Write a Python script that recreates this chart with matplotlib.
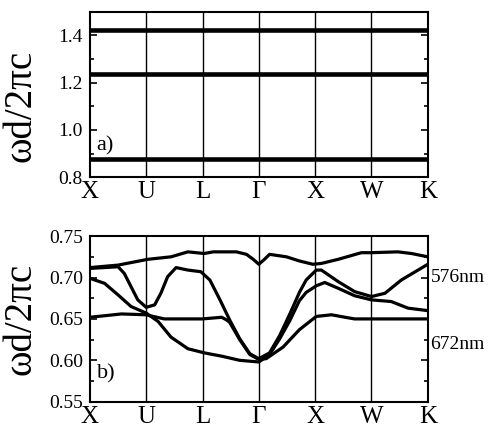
import matplotlib.pyplot as plt
from matplotlib.ticker import MultipleLocator, FormatStrFormatter

plt.rcParams['font.family'] = ['Liberation Serif', 'DejaVu Serif']

# symmetry points along the path
k_labels = ['X', 'U', 'L', 'Γ', 'X', 'W', 'K']
k_pos = [0, 1, 2, 3, 4, 5, 6]

# panel a): flat bands
flat_bands = [1.423, 1.235, 0.877]

# panel b): four bands
band1_k = [0, 0.5, 1.03, 1.44, 1.74, 2.03, 2.19, 2.6, 2.78, 2.9, 3.0, 3.1, 3.19, 3.49, 3.72,
           3.96, 4.11, 4.41, 4.82, 5.0, 5.47, 5.71, 6]
band1_w = [0.712, 0.715, 0.722, 0.725, 0.731, 0.729, 0.731, 0.731, 0.728, 0.722, 0.716, 0.722,
           0.728, 0.725, 0.720, 0.716, 0.717, 0.722, 0.730, 0.730, 0.731, 0.729, 0.725]

band2_k = [0, 0.5, 0.61, 0.73, 0.85, 1.0, 1.15, 1.26, 1.38, 1.53, 1.74, 1.97, 2.13, 2.31, 2.48,
           2.66, 2.84, 3.0, 3.19, 3.37, 3.55, 3.72, 3.84, 4.02, 4.11, 4.41, 4.70, 5.0, 5.24,
           5.53, 6]
band2_w = [0.711, 0.713, 0.705, 0.689, 0.673, 0.664, 0.667, 0.681, 0.701, 0.712, 0.709, 0.707,
           0.697, 0.673, 0.649, 0.626, 0.608, 0.602, 0.609, 0.630, 0.656, 0.682, 0.697, 0.709,
           0.709, 0.695, 0.683, 0.677, 0.681, 0.697, 0.716]

band3_k = [0, 0.26, 0.5, 0.73, 1.0, 1.21, 1.44, 1.74, 2.03, 2.34, 2.66, 3.0, 3.19, 3.37, 3.55,
           3.72, 3.84, 4.02, 4.17, 4.41, 4.70, 5.0, 5.35, 5.65, 6]
band3_w = [0.699, 0.693, 0.679, 0.665, 0.657, 0.647, 0.628, 0.614, 0.609, 0.605, 0.600, 0.598,
           0.607, 0.626, 0.648, 0.672, 0.682, 0.690, 0.694, 0.687, 0.678, 0.673, 0.671, 0.663,
           0.660]

band4_k = [0, 0.56, 1.0, 1.32, 2.0, 2.34, 2.42, 2.48, 2.66, 2.84, 3.0, 3.13, 3.43, 3.72, 4.02,
           4.29, 4.53, 4.70, 5.0, 6]
band4_w = [0.652, 0.656, 0.655, 0.650, 0.650, 0.652, 0.649, 0.646, 0.625, 0.607, 0.601, 0.602,
           0.616, 0.637, 0.653, 0.655, 0.652, 0.650, 0.650, 0.650]

# wavelength marks on the right of panel b)
wl_labels = ['576nm', '672nm']
wl_pos = [0.700, 0.619]

fig = plt.figure(figsize=(4.94, 4.29), dpi=100)
ax1 = fig.add_axes([0.182, 0.587, 0.684, 0.386])
ax2 = fig.add_axes([0.182, 0.0636, 0.684, 0.386])


def style_axes(ax):
    for s in ax.spines.values():
        s.set_linewidth(1.5)
    ax.set_xlim(0, 6)
    ax.set_xticks(k_pos)
    ax.set_xticklabels(k_labels, fontsize=18)
    ax.tick_params(axis='x', length=0, pad=3)
    ax.tick_params(axis='y', which='both', direction='in', left=True, right=True,
                   labelsize=14, pad=5, width=1.2)
    ax.tick_params(axis='y', which='major', length=5)
    ax.tick_params(axis='y', which='minor', length=3)
    for k in k_pos[1:-1]:
        ax.axvline(k, color='black', lw=1.0, zorder=1)
    ax.set_ylabel('ωd/2πc', fontsize=28)


# panel a)
for w in flat_bands:
    ax1.plot([k_pos[0], k_pos[-1]], [w, w], color='black', lw=3.3, zorder=3)
ax1.set_ylim(0.8, 1.5)
ax1.yaxis.set_major_locator(MultipleLocator(0.2))
ax1.yaxis.set_minor_locator(MultipleLocator(0.1))
ax1.yaxis.set_major_formatter(FormatStrFormatter('%.1f'))
style_axes(ax1)
ax1.yaxis.set_label_coords(-0.148, 0.43)
ax1.text(0.02, 0.19, 'a)', transform=ax1.transAxes, fontsize=16, va='center', ha='left')

# panel b)
for bk, bw in [(band1_k, band1_w), (band2_k, band2_w), (band3_k, band3_w), (band4_k, band4_w)]:
    ax2.plot(bk, bw, color='black', lw=2.3, zorder=3, solid_joinstyle='round')
ax2.set_ylim(0.55, 0.75)
ax2.yaxis.set_major_locator(MultipleLocator(0.05))
ax2.yaxis.set_minor_locator(MultipleLocator(0.025))
ax2.yaxis.set_major_formatter(FormatStrFormatter('%.2f'))
style_axes(ax2)
ax2.yaxis.set_label_coords(-0.148, 0.5)
ax2.text(0.02, 0.17, 'b)', transform=ax2.transAxes, fontsize=16, va='center', ha='left')
for lab, w in zip(wl_labels, wl_pos):
    ax2.text(1.008, w, lab, transform=ax2.get_yaxis_transform(), fontsize=14,
             va='center', ha='left')

fig.savefig('out.png', dpi=100)
